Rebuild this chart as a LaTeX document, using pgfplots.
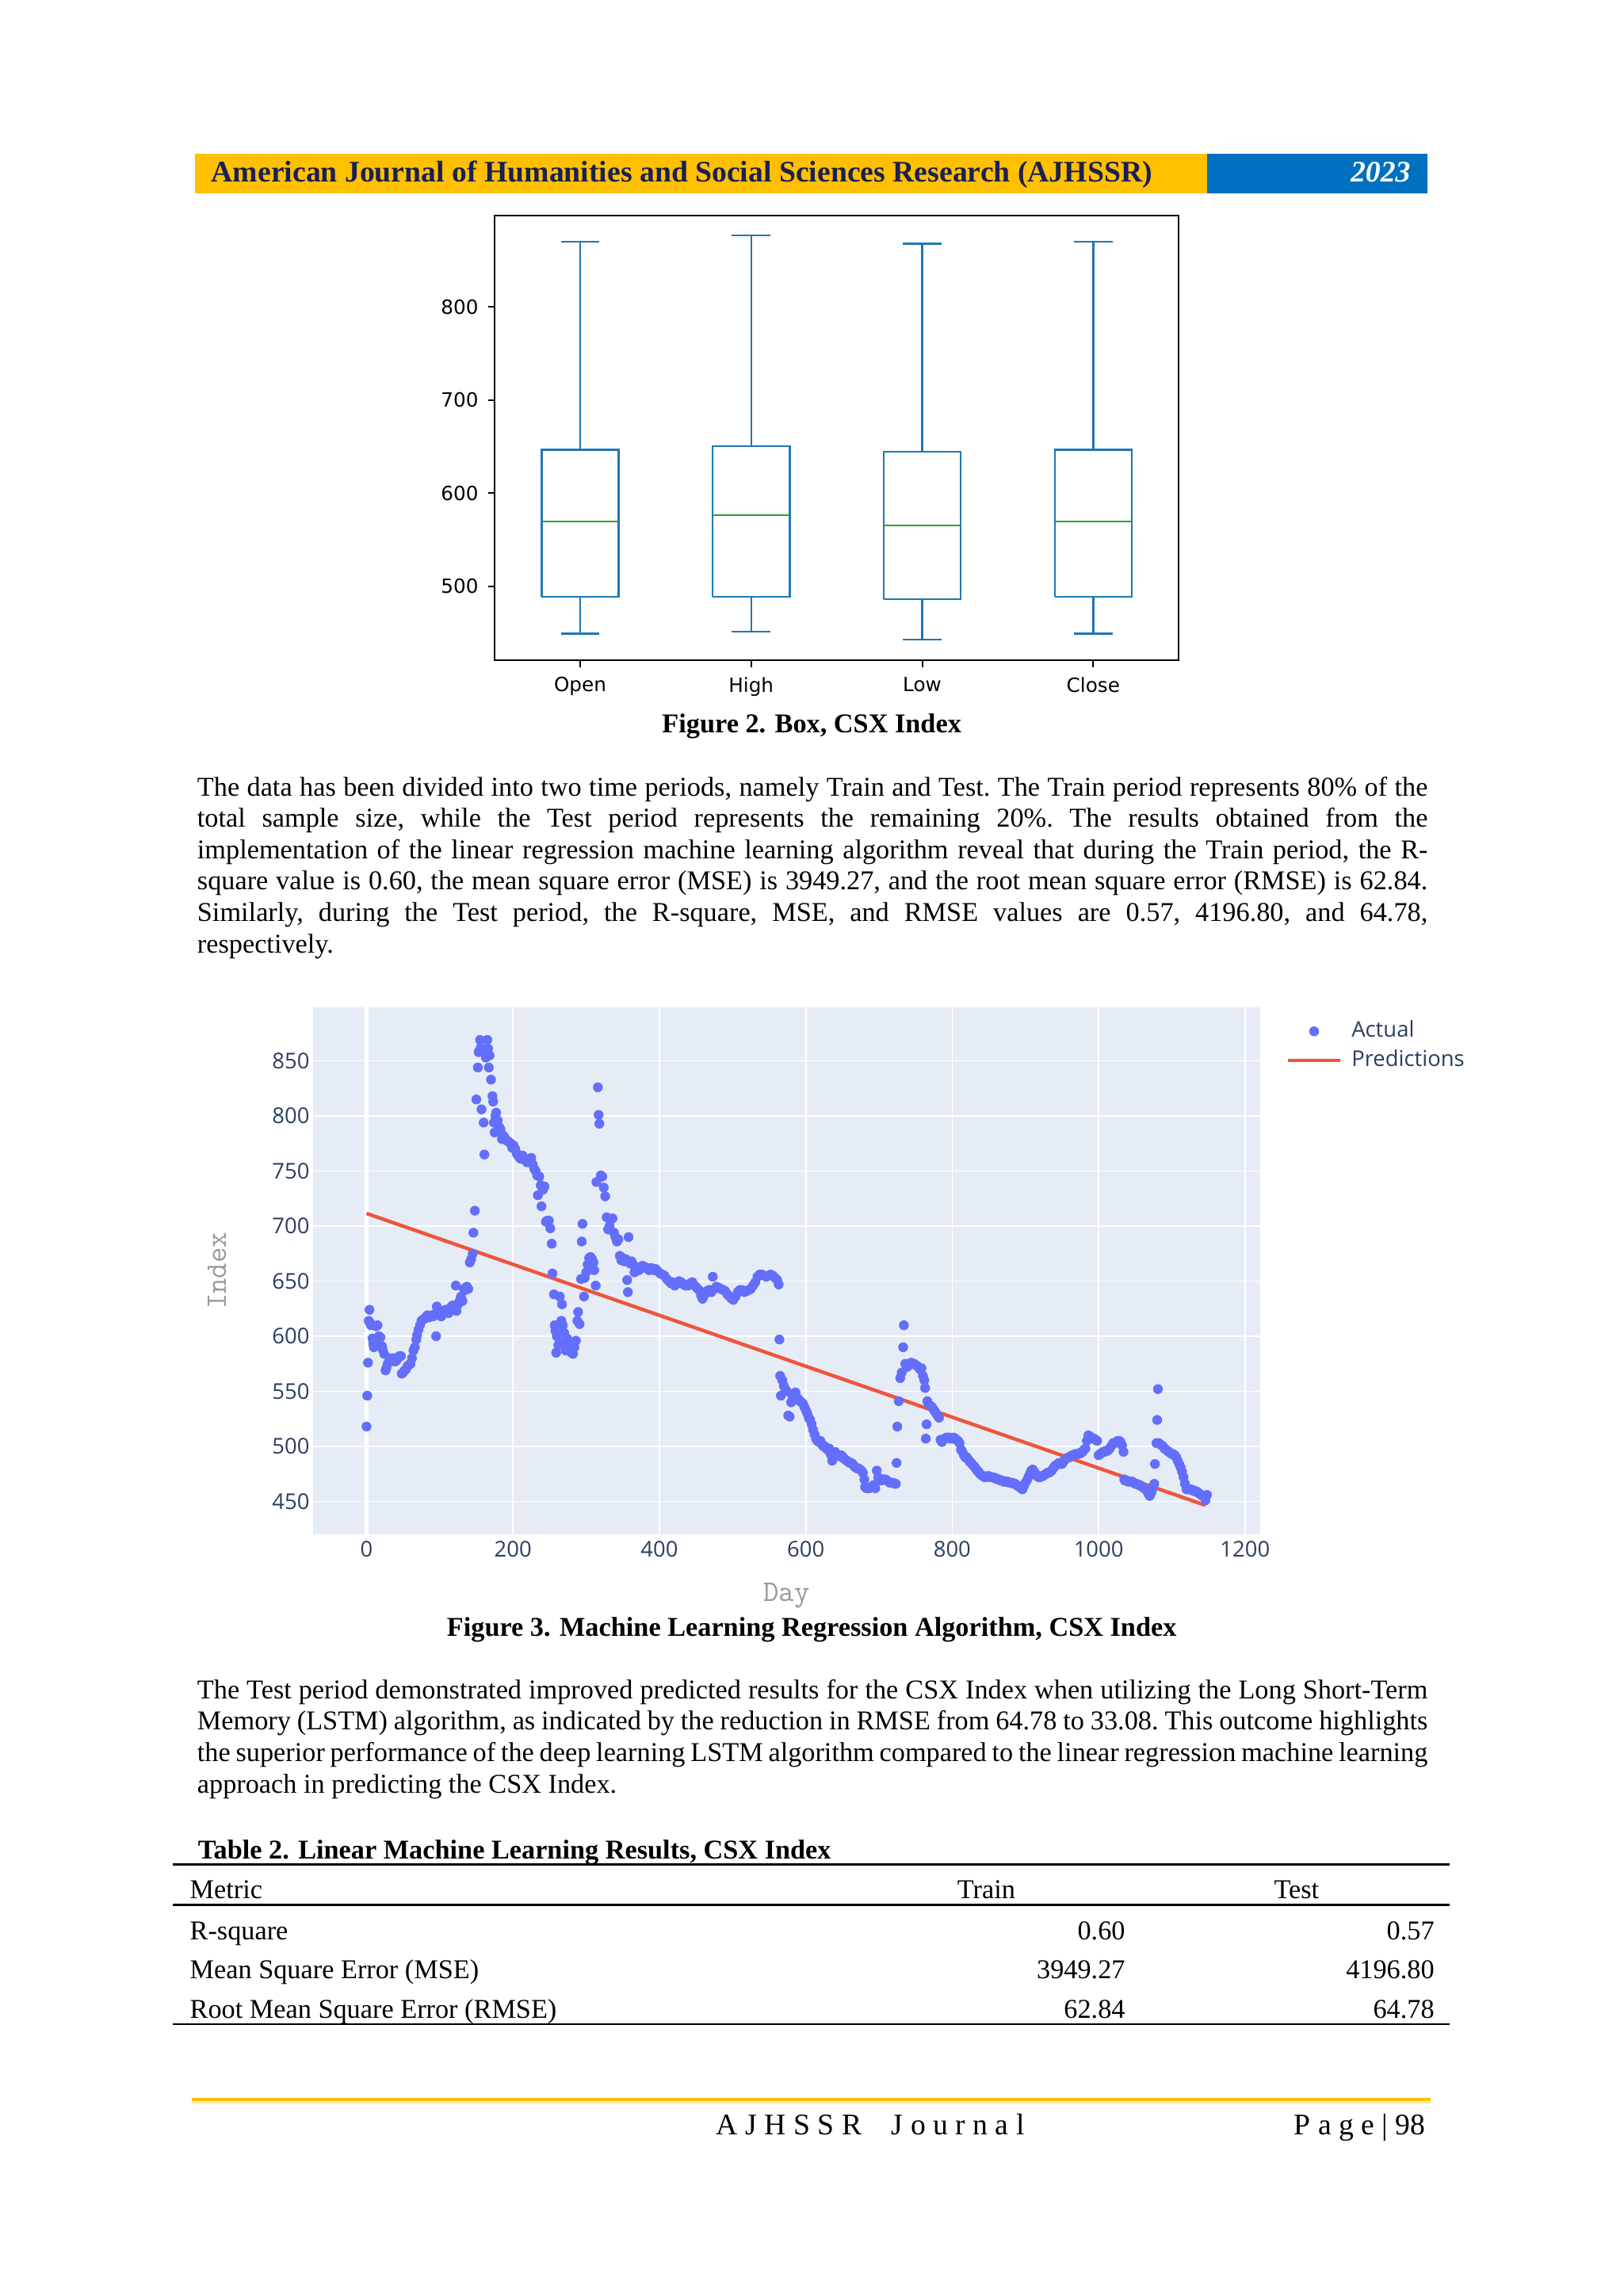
\documentclass[border=0pt]{standalone}
\usepackage{fontspec}
\setmainfont{Liberation Serif}
\newfontfamily\dejavu{DejaVu Sans}
\newfontfamily\opensans{Open Sans}
\usepackage{pgfplots}
\usepackage{pgfplotstable}
\pgfplotsset{compat=1.18}

\definecolor{hdryellow}{HTML}{FFC000}
\definecolor{hdrblue}{HTML}{0070C0}
\definecolor{hdrtext}{HTML}{1A2050}
\definecolor{mplblue}{HTML}{1F77B4}
\definecolor{mplgreen}{HTML}{2CA02C}
\definecolor{plybg}{HTML}{E5ECF6}
\definecolor{plytxt}{HTML}{2A3F5F}
\definecolor{plyblue}{HTML}{636EFA}
\definecolor{plyred}{HTML}{EF553B}
\definecolor{plygray}{HTML}{9A9A9A}
\definecolor{footlight}{HTML}{FFE699}

% CSX index, read off the scatter (day, index)
\pgfplotstableread{
day val
0 518
1 546
2 576
3 614
4 624
5 612
6 610
8 598
9 593
10 590
12 596
13 609
15 610
17 600
19 599
21 591
22 588
24 584
26 569
27 571
29 575
31 580
33 578
35 580
37 580
39 577
41 578
43 580
45 582
47 582
48 566
50 567
52 569
54 570
56 573
58 574
60 575
62 580
64 587
66 590
68 597
69 601
71 606
73 610
75 614
77 615
79 616
81 617
83 619
85 617
87 618
89 619
91 618
93 620
95 600
96 627
98 624
100 621
102 618
104 620
106 622
108 624
110 622
112 621
114 625
116 627
118 628
120 626
122 646
123 623
125 629
127 632
129 636
131 632
133 643
135 642
137 645
139 643
141 667
143 670
145 675
146 694
148 714
150 815
152 844
153 858
155 869
156 862
157 806
158 860
160 794
161 765
163 853
165 869
166 861
167 844
168 855
170 833
172 818
173 813
174 794
175 785
176 800
177 803
179 796
181 790
183 788
185 779
187 782
189 780
191 778
193 777
195 776
197 775
199 771
201 773
203 770
205 766
207 764
209 762
211 761
213 764
215 762
217 760
219 758
221 760
223 758
225 762
227 756
229 752
231 750
233 746
234 728
236 745
238 737
239 718
241 733
243 736
245 704
247 705
249 705
251 698
253 684
254 657
256 638
257 610
258 605
259 585
260 600
262 592
264 636
265 594
266 614
267 629
268 610
270 603
272 587
274 598
276 592
278 590
280 585
282 584
284 590
286 596
288 614
289 622
291 611
293 652
294 686
295 702
297 636
298 653
300 658
302 665
304 671
306 672
308 670
310 667
311 660
313 646
314 740
316 826
317 801
318 793
320 746
322 745
324 735
326 727
328 708
330 697
332 700
334 706
336 707
338 694
340 690
342 686
344 688
346 673
348 669
350 671
352 668
354 670
356 651
357 640
358 690
360 666
362 668
364 665
366 658
368 663
370 662
372 660
374 661
377 664
380 663
383 662
386 660
389 662
392 660
395 661
398 659
401 657
404 656
407 655
410 652
413 650
416 648
418 649
421 646
424 648
427 650
430 649
433 647
436 646
439 646
442 648
445 649
448 646
451 644
454 642
457 637
459 634
462 638
465 641
468 642
471 640
473 654
475 643
478 645
481 644
484 643
487 642
490 641
493 638
496 636
499 634
501 633
504 636
507 640
510 642
513 642
516 640
519 641
522 642
525 643
528 646
531 649
534 654
537 656
540 656
543 655
546 654
549 655
552 656
555 655
558 653
561 651
563 647
564 597
565 564
566 546
568 560
570 555
572 552
574 550
576 528
578 527
580 540
582 545
584 548
586 549
588 544
590 543
592 541
594 540
596 539
598 536
600 533
602 530
604 526
606 524
608 520
610 515
612 511
614 507
616 505
618 504
620 505
622 502
624 500
626 500
628 498
630 497
632 498
634 493
636 487
638 492
640 495
642 493
644 492
646 491
648 492
650 491
652 489
654 488
656 487
658 486
660 485
662 485
664 484
666 482
668 481
670 480
672 480
674 479
676 478
678 476
680 470
681 463
683 462
685 462
687 462
689 463
691 464
693 465
695 462
697 478
699 472
701 470
703 469
705 470
707 470
709 470
711 469
713 468
715 467
717 467
719 467
721 466
723 466
724 485
725 518
727 541
729 562
731 567
733 590
734 610
736 575
738 572
740 573
742 575
744 576
746 575
748 575
750 574
752 573
754 572
756 570
758 571
760 564
762 560
763 553
764 507
765 520
766 541
768 538
770 537
772 536
774 534
776 532
778 530
780 528
782 526
784 506
786 504
788 506
790 507
792 508
794 508
796 508
798 507
800 507
802 508
804 507
806 506
808 505
810 503
812 497
814 495
816 492
818 490
820 490
822 488
824 486
826 485
828 483
830 482
832 480
834 478
836 477
838 475
840 474
842 473
844 472
846 472
848 473
850 473
852 472
854 472
856 472
858 471
860 471
862 470
864 470
866 469
868 469
870 468
872 468
874 468
876 468
878 467
880 467
882 467
884 466
886 466
888 465
890 464
892 463
894 462
896 461
898 464
900 467
902 469
904 472
906 475
908 478
910 479
912 477
914 475
916 473
918 472
920 472
922 473
924 473
926 474
928 475
930 476
932 476
934 477
936 478
938 480
940 482
942 483
944 484
946 485
948 484
950 484
952 486
954 488
956 489
958 490
960 490
962 491
964 492
966 492
968 493
970 493
972 493
974 494
976 494
978 495
980 497
982 498
984 505
986 510
988 509
990 508
992 507
994 507
996 506
998 505
1000 492
1002 493
1004 494
1006 495
1008 495
1010 496
1012 496
1014 497
1016 499
1018 501
1020 503
1022 503
1024 504
1026 505
1028 505
1030 504
1032 501
1034 495
1035 470
1036 469
1038 469
1040 468
1042 468
1044 468
1046 468
1048 467
1050 466
1052 466
1054 465
1056 465
1058 464
1060 463
1062 462
1064 461
1066 460
1068 457
1070 455
1072 458
1074 462
1076 466
1077 484
1079 503
1080 524
1081 552
1082 503
1084 502
1086 501
1088 500
1090 498
1092 497
1094 496
1096 495
1098 494
1100 493
1102 493
1104 492
1106 490
1108 487
1110 484
1112 481
1114 477
1116 472
1118 466
1120 461
1122 461
1124 461
1126 461
1128 460
1130 460
1132 459
1134 459
1136 458
1138 457
1140 456
1142 455
1144 454
1146 451
1148 456
}\actualdata

\begin{document}
\begin{tikzpicture}
\path[fill=white] (0,0) rectangle (210mm,-297mm);

% journal header
\fill[hdryellow] (25.2mm,-19.9mm) rectangle (156.15mm,-25.0mm);
\fill[hdrblue] (156.15mm,-19.9mm) rectangle (184.6mm,-25.0mm);
\node[anchor=base west, inner sep=0pt, text=hdrtext, font=\fontsize{11}{13}\selectfont\bfseries]
  at (27.27mm,-23.48mm) {American Journal of Humanities and Social Sciences Research (AJHSSR)};
\node[anchor=base east, inner sep=0pt, text=white, font=\fontsize{11}{13}\selectfont\bfseries\itshape]
  at (182.5mm,-23.48mm) {2023};

% Figure 2: box plot (box = quartiles, whiskers to min/max)
\begin{axis}[
    at={(63.98mm,-27.84mm)}, anchor=north west,
    scale only axis, width=88.49mm, height=57.58mm,
    xmin=0.5, xmax=4.5, ymin=420.25, ymax=898.75,
    xtick={1,2,3,4}, xticklabels={Open,High,Low,Close},
    ytick={500,600,700,800},
    tick align=outside, xtick pos=bottom, ytick pos=left,
    major tick length=2.5pt,
    tick style={black, line width=0.58pt},
    axis line style={line width=0.58pt},
    ticklabel style={font=\dejavu\fontsize{7.2}{8.5}\selectfont},
    /pgf/number format/assume math mode=true,
    xticklabel style={inner sep=0pt, anchor=north, yshift=-3.5pt},
    yticklabel style={inner sep=0pt, anchor=east, xshift=-3.3pt},
    unbounded coords=jump,
    every axis plot/.append style={line width=0.72pt, mark=none},
]
% Open
\addplot[mplblue] coordinates {(0.775,488.5) (1.225,488.5) (1.225,646.6) (0.775,646.6) (0.775,488.5)
  (1,nan) (1,488.5) (1,449) (1,nan) (0.8875,449) (1.1125,449)
  (1,nan) (1,646.6) (1,870.4) (1,nan) (0.8875,870.4) (1.1125,870.4)};
\addplot[mplgreen] coordinates {(0.775,569.7) (1.225,569.7)};
% High
\addplot[mplblue] coordinates {(1.775,488.5) (2.225,488.5) (2.225,650.5) (1.775,650.5) (1.775,488.5)
  (2,nan) (2,488.5) (2,451.1) (2,nan) (1.8875,451.1) (2.1125,451.1)
  (2,nan) (2,650.5) (2,876.9) (2,nan) (1.8875,876.9) (2.1125,876.9)};
\addplot[mplgreen] coordinates {(1.775,576.3) (2.225,576.3)};
% Low
\addplot[mplblue] coordinates {(2.775,486.1) (3.225,486.1) (3.225,644.3) (2.775,644.3) (2.775,486.1)
  (3,nan) (3,486.1) (3,442.4) (3,nan) (2.8875,442.4) (3.1125,442.4)
  (3,nan) (3,644.3) (3,868.3) (3,nan) (2.8875,868.3) (3.1125,868.3)};
\addplot[mplgreen] coordinates {(2.775,565.2) (3.225,565.2)};
% Close
\addplot[mplblue] coordinates {(3.775,488.5) (4.225,488.5) (4.225,646.6) (3.775,646.6) (3.775,488.5)
  (4,nan) (4,488.5) (4,449) (4,nan) (3.8875,449) (4.1125,449)
  (4,nan) (4,646.6) (4,870.4) (4,nan) (3.8875,870.4) (4.1125,870.4)};
\addplot[mplgreen] coordinates {(3.775,569.7) (4.225,569.7)};
\end{axis}

\node[anchor=base, inner sep=0pt, font=\fontsize{10}{12}\selectfont\bfseries]
  at (105mm,-94.74mm) {Figure 2. Box, CSX Index};

\node[anchor=base west, inner sep=0pt, text width=159.15mm, align=justify,
      font=\fontsize{10}{11.55}\selectfont] at (25.45mm,-102.94mm)
  {\frenchspacing\hyphenpenalty=10000\tolerance=10000
   The data has been divided into two time periods, namely Train and Test. The Train period represents 80\% of the\linebreak
   total sample size, while the Test period represents the remaining 20\%. The results obtained from the\linebreak
   implementation of the linear regression machine learning algorithm reveal that during the Train period, the R-\linebreak
   square value is 0.60, the mean square error (MSE) is 3949.27, and the root mean square error (RMSE) is 62.84.\linebreak
   Similarly, during the Test period, the R-square, MSE, and RMSE values are 0.57, 4196.80, and 64.78,\linebreak
   respectively.};

% Figure 3: regression scatter
\begin{axis}[
    at={(40.50mm,-130.25mm)}, anchor=north west,
    scale only axis, width=122.53mm, height=68.24mm,
    xmin=-73, xmax=1221, ymin=420, ymax=899,
    axis background/.style={fill=plybg},
    axis line style={draw=none},
    major tick length=0pt, tick style={draw=none},
    grid=major, grid style={white, line width=0.5pt},
    xtick={0,200,...,1200}, ytick={450,500,...,850},
    extra x ticks={0}, extra x tick labels={},
    extra x tick style={grid style={white, line width=1.2pt}},
    ticklabel style={font=\opensans\fontsize{8}{9.6}\selectfont, text=plytxt},
    /pgf/number format/assume math mode=true,
    /pgf/number format/1000 sep={},
    xticklabel style={inner sep=0pt, anchor=north, yshift=-0.75mm},
    yticklabel style={inner sep=0pt, anchor=east, xshift=-0.4mm},
    xlabel={Day}, ylabel={Index},
    every axis x label/.style={at={(rel axis cs:0.5,-0.1262)}, anchor=base,
        font=\ttfamily\fontsize{11}{13}\selectfont, text=plygray},
    every axis y label/.style={at={(rel axis cs:-0.092,0.5)}, rotate=90, anchor=base,
        font=\ttfamily\fontsize{11}{13}\selectfont, text=plygray},
    legend image code/.code={\draw[mark repeat=2,mark phase=2,#1]
        plot coordinates {(0mm,0mm) (3.42mm,0mm) (6.84mm,0mm)};},
    legend cell align=left,
    legend style={at={(1,1)}, anchor=north west, xshift=3.3mm, yshift=-1.28mm,
        draw=none, fill=none, inner sep=0pt, outer sep=0pt,
        column sep=1.2mm, row sep=0pt,
        font=\opensans\fontsize{8}{9.6}\selectfont, text=plytxt,
        nodes={inner sep=0pt, text height=2.635mm, text depth=1.125mm}},
]
\addplot[only marks, mark=*, mark size=1.7pt,
         mark options={draw=plyblue, fill=plyblue, line width=0.2pt}]
  table[x=day, y=val] {\actualdata};
\addlegendentry{Actual}
\addplot[plyred, line width=1.3pt] coordinates {(0,711.5) (1146,446.5)};
\addlegendentry{Predictions}
\end{axis}

\node[anchor=base, inner sep=0pt, font=\fontsize{10}{12}\selectfont\bfseries]
  at (105mm,-211.62mm) {Figure 3. Machine Learning Regression Algorithm, CSX Index};

\node[anchor=base west, inner sep=0pt, text width=159.15mm, align=justify,
      font=\fontsize{10}{11.55}\selectfont] at (25.45mm,-219.72mm)
  {\frenchspacing\hyphenpenalty=10000\tolerance=10000
   The Test period demonstrated improved predicted results for the CSX Index when utilizing the Long Short-Term\linebreak
   Memory (LSTM) algorithm, as indicated by the reduction in RMSE from 64.78 to 33.08. This outcome highlights\linebreak
   the superior performance of the deep learning LSTM algorithm compared to the linear regression machine learning\linebreak
   approach in predicting the CSX Index.};

% Table 2
\node[anchor=base west, inner sep=0pt, font=\fontsize{10}{12}\selectfont\bfseries]
  at (25.55mm,-240.41mm) {Table 2. Linear Machine Learning Results, CSX Index};
\draw[line width=0.75pt] (22.4mm,-241.19mm) -- (187.5mm,-241.19mm);
\draw[line width=0.85pt] (22.4mm,-246.41mm) -- (187.5mm,-246.41mm);
\draw[line width=0.75pt] (22.4mm,-261.84mm) -- (187.5mm,-261.84mm);
\begin{scope}[every node/.style={inner sep=0pt, font=\fontsize{10}{12}\selectfont}]
\node[anchor=base west] at (24.5mm,-245.60mm) {Metric};
\node[anchor=base west] at (123.77mm,-245.60mm) {Train};
\node[anchor=base west] at (164.73mm,-245.60mm) {Test};
\node[anchor=base west] at (24.5mm,-250.92mm) {R-square};
\node[anchor=base east] at (145.6mm,-250.92mm) {0.60};
\node[anchor=base east] at (185.6mm,-250.92mm) {0.57};
\node[anchor=base west] at (24.5mm,-255.92mm) {Mean Square Error (MSE)};
\node[anchor=base east] at (145.6mm,-255.92mm) {3949.27};
\node[anchor=base east] at (185.6mm,-255.92mm) {4196.80};
\node[anchor=base west] at (24.5mm,-261.03mm) {Root Mean Square Error (RMSE)};
\node[anchor=base east] at (145.6mm,-261.03mm) {62.84};
\node[anchor=base east] at (185.6mm,-261.03mm) {64.78};
\end{scope}

% footer
\draw[hdryellow, line width=1.1pt] (24.8mm,-271.55mm) -- (185mm,-271.55mm);
\draw[footlight, line width=0.6pt] (24.8mm,-271.95mm) -- (185mm,-271.95mm);
\node[anchor=base west, inner sep=0pt, font=\fontsize{11}{13}\selectfont]
  at (92.6mm,-276.1mm) {A J H S S R\quad J o u r n a l};
\node[anchor=base east, inner sep=0pt, font=\fontsize{11}{13}\selectfont]
  at (184.45mm,-276.1mm) {P a g e | 98};
\end{tikzpicture}
\end{document}
